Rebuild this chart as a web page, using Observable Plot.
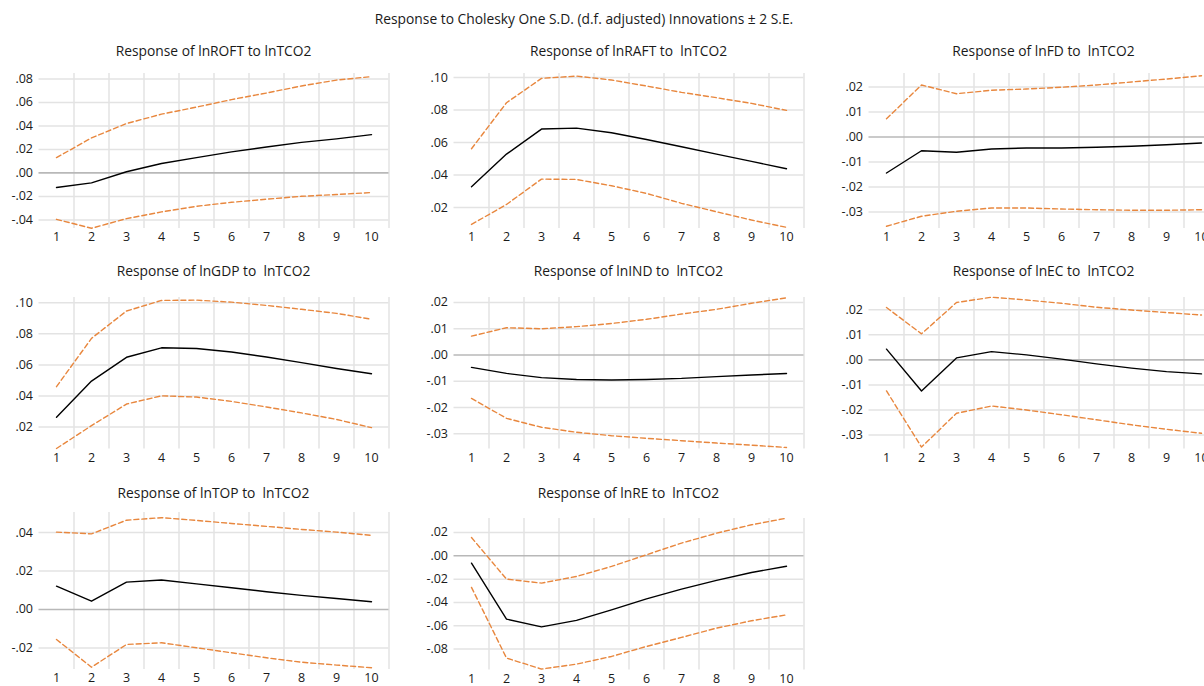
<!DOCTYPE html>
<html><head><meta charset="utf-8">
<script src="https://cdn.jsdelivr.net/npm/d3@7"></script>
<script src="https://cdn.jsdelivr.net/npm/@observablehq/plot@0.6"></script>
<style>
html,body{margin:0;padding:0;background:#fff;overflow:hidden;}
#wrap{position:relative;width:1204px;height:686px;overflow:hidden;font-family:"Open Sans",Lato,sans-serif;color:#1a1a1a;}
.ttl{position:absolute;white-space:pre;font-size:13.8px;text-align:center;line-height:18px;}
.panel{position:absolute;}
.panel svg{max-width:none !important;}
</style></head><body><div id="wrap"></div>
<script>
// ---- data ----
const periods = [1,2,3,4,5,6,7,8,9,10];
const gridX = [1.5,2.5,3.5,4.5,5.5,6.5,7.5,8.5,9.5,10.5];
const mainTitle = "Response to Cholesky One S.D. (d.f. adjusted) Innovations \u00b1 2 S.E.";

const roftTitle = "Response of lnROFT to lnTCO2";
const roftResp  = [-0.0124,-0.0085,0.0010,0.0080,0.0130,0.0179,0.0221,0.0260,0.0290,0.0326];
const roftUpper = [0.0130,0.0298,0.0420,0.0500,0.0560,0.0624,0.0680,0.0740,0.0790,0.0820];
const roftLower = [-0.0395,-0.0471,-0.0389,-0.0332,-0.0284,-0.0250,-0.0224,-0.0199,-0.0184,-0.0167];
const roftTicks = [-0.04,-0.02,0,0.02,0.04,0.06,0.08];
const roftDomain = [-0.0473,0.0846];

const raftTitle = "Response of lnRAFT to  lnTCO2";
const raftResp  = [0.0328,0.0529,0.0683,0.0689,0.0660,0.0619,0.0574,0.0529,0.0484,0.0439];
const raftUpper = [0.0562,0.0845,0.0995,0.1009,0.0985,0.0948,0.0909,0.0876,0.0841,0.0798];
const raftLower = [0.0096,0.0219,0.0375,0.0373,0.0334,0.0287,0.0226,0.0174,0.0123,0.0078];
const raftTicks = [0.02,0.04,0.06,0.08,0.10];
const raftDomain = [0.0071,0.1025];

const fdTitle = "Response of lnFD to  lnTCO2";
const fdResp  = [-0.0144,-0.0055,-0.0061,-0.0048,-0.0044,-0.0044,-0.0041,-0.0037,-0.0031,-0.0024];
const fdUpper = [0.0073,0.0208,0.0173,0.0187,0.0192,0.0199,0.0208,0.0220,0.0232,0.0245];
const fdLower = [-0.0357,-0.0317,-0.0297,-0.0284,-0.0284,-0.0288,-0.0291,-0.0293,-0.0293,-0.0291];
const fdTicks = [-0.03,-0.02,-0.01,0,0.01,0.02];
const fdDomain = [-0.0366,0.0254];

const gdpTitle = "Response of lnGDP to  lnTCO2";
const gdpResp  = [0.0263,0.0496,0.0649,0.0710,0.0706,0.0683,0.0651,0.0615,0.0577,0.0543];
const gdpUpper = [0.0460,0.0771,0.0947,0.1015,0.1017,0.1004,0.0983,0.0958,0.0932,0.0894];
const gdpLower = [0.0062,0.0209,0.0348,0.0401,0.0393,0.0365,0.0329,0.0291,0.0249,0.0196];
const gdpTicks = [0.02,0.04,0.06,0.08,0.10];
const gdpDomain = [0.0058,0.1034];

const indTitle = "Response of lnIND to  lnTCO2";
const indResp  = [-0.0047,-0.0070,-0.0086,-0.0093,-0.0095,-0.0093,-0.0089,-0.0082,-0.0076,-0.0070];
const indUpper = [0.0072,0.0104,0.0100,0.0108,0.0120,0.0136,0.0156,0.0174,0.0197,0.0218];
const indLower = [-0.0165,-0.0241,-0.0275,-0.0294,-0.0307,-0.0317,-0.0326,-0.0335,-0.0343,-0.0352];
const indTicks = [-0.03,-0.02,-0.01,0,0.01,0.02];
const indDomain = [-0.0358,0.0219];

const ecTitle = "Response of lnEC to  lnTCO2";
const ecResp  = [0.0043,-0.0124,0.0008,0.0033,0.0020,0.0003,-0.0016,-0.0033,-0.0047,-0.0056];
const ecUpper = [0.0209,0.0104,0.0229,0.0250,0.0239,0.0226,0.0210,0.0199,0.0189,0.0179];
const ecLower = [-0.0124,-0.0348,-0.0213,-0.0184,-0.0200,-0.0219,-0.0239,-0.0259,-0.0277,-0.0293];
const ecTicks = [-0.03,-0.02,-0.01,0,0.01,0.02];
const ecDomain = [-0.0356,0.0249];

const topTitle = "Response of lnTOP to  lnTCO2";
const topResp  = [0.0121,0.0043,0.0142,0.0153,0.0133,0.0113,0.0092,0.0073,0.0057,0.0040];
const topUpper = [0.0402,0.0393,0.0464,0.0477,0.0463,0.0447,0.0432,0.0416,0.0402,0.0385];
const topLower = [-0.0156,-0.0300,-0.0182,-0.0173,-0.0199,-0.0225,-0.0251,-0.0274,-0.0289,-0.0303];
const topTicks = [-0.02,0,0.02,0.04];
const topDomain = [-0.0312,0.0504];

const reTitle = "Response of lnRE to  lnTCO2";
const reResp  = [-0.0063,-0.0543,-0.0609,-0.0554,-0.0463,-0.0369,-0.0286,-0.0211,-0.0143,-0.0089];
const reUpper = [0.0157,-0.0200,-0.0234,-0.0177,-0.0091,0.0009,0.0109,0.0194,0.0266,0.0323];
const reLower = [-0.0271,-0.0877,-0.0971,-0.0929,-0.0863,-0.0777,-0.0700,-0.0620,-0.0557,-0.0506];
const reTicks = [-0.08,-0.06,-0.04,-0.02,0,0.02];
const reDomain = [-0.0980,0.0320];

// ---- layout ----
const colLeft = [0, 415, 830];
const panels = [
  {title:roftTitle, resp:roftResp, up:roftUpper, lo:roftLower, ticks:roftTicks, domain:roftDomain, col:0, top:73.3, h:155, ty:51},
  {title:raftTitle, resp:raftResp, up:raftUpper, lo:raftLower, ticks:raftTicks, domain:raftDomain, col:1, top:73.3, h:155, ty:51},
  {title:fdTitle, resp:fdResp, up:fdUpper, lo:fdLower, ticks:fdTicks, domain:fdDomain, col:2, top:73.3, h:155, ty:51},
  {title:gdpTitle, resp:gdpResp, up:gdpUpper, lo:gdpLower, ticks:gdpTicks, domain:gdpDomain, col:0, top:296.7, h:151.6, ty:271},
  {title:indTitle, resp:indResp, up:indUpper, lo:indLower, ticks:indTicks, domain:indDomain, col:1, top:296.7, h:151.6, ty:271},
  {title:ecTitle, resp:ecResp, up:ecUpper, lo:ecLower, ticks:ecTicks, domain:ecDomain, col:2, top:296.7, h:151.6, ty:271},
  {title:topTitle, resp:topResp, up:topUpper, lo:topLower, ticks:topTicks, domain:topDomain, col:0, top:512.3, h:157, ty:493},
  {title:reTitle, resp:reResp, up:reUpper, lo:reLower, ticks:reTicks, domain:reDomain, col:1, top:517.7, h:151.6, ty:493}
];

const fmt = d => (d < 0 ? "-" : "") + Math.abs(d).toFixed(2).replace(/^0/, "");
const wrap = document.getElementById("wrap");

const mt = 4, mb = 26, ml = 38.5, mr = 14, pw = 350;

const head = document.createElement("div");
head.className = "ttl";
head.style.cssText = "left:0;top:10px;width:1168px;font-size:13.8px;";
head.textContent = mainTitle;
wrap.appendChild(head);

for (const p of panels) {
  const rows = periods.map((t, i) => ({t, resp: p.resp[i], up: p.up[i], lo: p.lo[i]}));
  const left = colLeft[p.col];
  const hasZero = p.domain[0] < 0 && p.domain[1] > 0;
  const W = ml + pw + mr;
  const chart = Plot.plot({
    width: W,
    height: p.h + mt + mb,
    marginLeft: ml, marginRight: mr, marginTop: mt, marginBottom: mb,
    style: {fontFamily: '"Open Sans", Lato, sans-serif', fontSize: "12.5px", color: "#1a1a1a", background: "transparent", overflow: "visible", maxWidth: "none"},
    x: {domain: [0.5, 10.5], ticks: periods, tickSize: 0, tickPadding: 4, tickFormat: d => String(d), label: null},
    y: {domain: p.domain, ticks: p.ticks, tickSize: 0, tickPadding: 6, tickFormat: fmt, label: null},
    marks: [
      Plot.ruleY(p.ticks.filter(v => v !== 0), {stroke: "#e3e3e3", strokeWidth: 1.5}),
      Plot.ruleX(gridX, {stroke: "#e3e3e3", strokeWidth: 1.5}),
      hasZero ? Plot.ruleY([0], {stroke: "#b8b8b8", strokeWidth: 1.6}) : null,
      Plot.line(rows, {x: "t", y: "up", stroke: "#e8873e", strokeWidth: 1.4, strokeDasharray: "5,3"}),
      Plot.line(rows, {x: "t", y: "lo", stroke: "#e8873e", strokeWidth: 1.4, strokeDasharray: "5,3"}),
      Plot.line(rows, {x: "t", y: "resp", stroke: "#000", strokeWidth: 1.4})
    ]
  });
  const div = document.createElement("div");
  div.className = "panel";
  div.style.left = left + "px";
  div.style.top = (p.top - mt) + "px";
  div.style.width = W + "px";
  div.appendChild(chart);
  wrap.appendChild(div);

  const t = document.createElement("div");
  t.className = "ttl";
  t.style.left = (left + ml) + "px";
  t.style.width = pw + "px";
  t.style.top = (p.ty - 9) + "px";
  t.textContent = p.title;
  wrap.appendChild(t);
}
</script>
</body></html>
